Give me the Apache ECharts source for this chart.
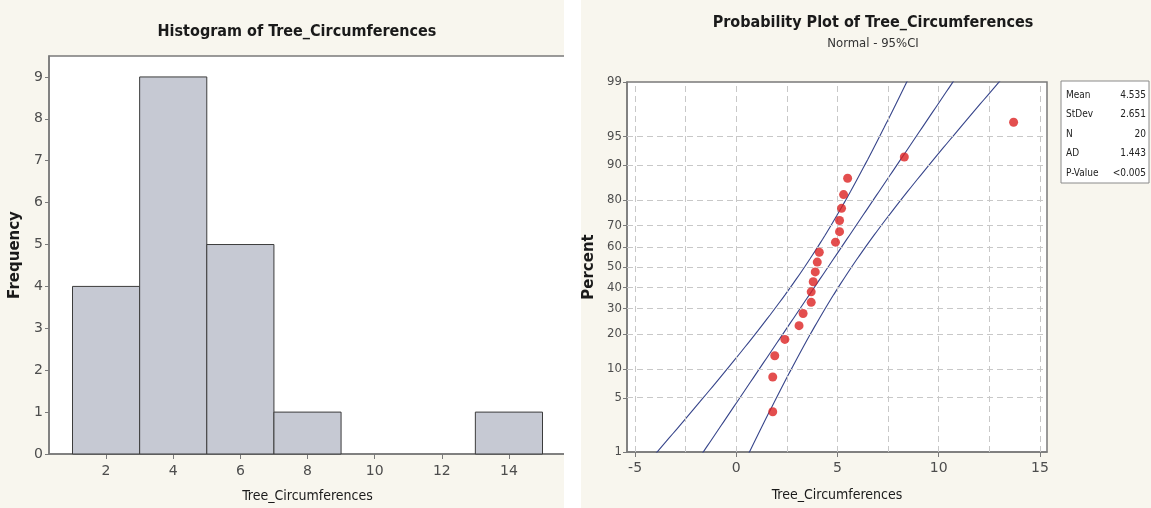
<!DOCTYPE html>
<html>
<head>
<meta charset="utf-8">
<script src="https://cdn.jsdelivr.net/npm/echarts@6/dist/echarts.min.js"></script>
<style>
  html, body { margin: 0; padding: 0; background: #ffffff; }
  #hist { position: absolute; left: 0; top: 0; width: 564px; height: 508px; background: #f8f6ee; }
  #prob { position: absolute; left: 581px; top: 0; width: 570px; height: 508px; background: #f8f6ee; }
</style>
</head>
<body>
<div id="hist"></div>
<div id="prob"></div>
<script>
// ---- Histogram data ----
const binEdges = [1, 3, 5, 7, 9, 11, 13, 15];
const binCounts = [4, 9, 5, 1, 0, 0, 1];
const histXTicks = [2, 4, 6, 8, 10, 12, 14];
const histYTicks = [0, 1, 2, 3, 4, 5, 6, 7, 8, 9];

// ---- Probability plot data (sorted observations) ----
const circumferences = [1.8, 1.8, 1.9, 2.4, 3.1, 3.3, 3.7, 3.7, 3.8, 3.9,
                        4.0, 4.1, 4.9, 5.1, 5.1, 5.2, 5.3, 5.5, 8.3, 13.7];
const percentTicks = [1, 5, 10, 20, 30, 40, 50, 60, 70, 80, 90, 95, 99];
const probXTicks = [-5, 0, 5, 10, 15];
const probXGrid = [-5, -2.5, 0, 2.5, 5, 7.5, 10, 12.5, 15];
const statNames = ['Mean', 'StDev', 'N', 'AD', 'P-Value'];
const statValues = ['4.535', '2.651', '20', '1.443', '<0.005'];
const fitMean = 4.535;
const fitStDev = 2.651;

const FONT = 'DejaVu Sans';
const FONT_C = 'DejaVu Sans Condensed';
const AXIS_GRAY = '#7a7a7a';
const LABEL_GRAY = '#4d4d4d';

// Inverse standard normal CDF (Acklam's rational approximation)
function normInv(p) {
  const a = [-3.969683028665376e+01, 2.209460984245205e+02, -2.759285104469687e+02, 1.383577518672690e+02, -3.066479806614716e+01, 2.506628277459239e+00];
  const b = [-5.447609879822406e+01, 1.615858368580409e+02, -1.556989798598866e+02, 6.680131188771972e+01, -1.328068155288572e+01];
  const c = [-7.784894002430293e-03, -3.223964580411365e-01, -2.400758277161838e+00, -2.549732539343734e+00, 4.374664141464968e+00, 2.938163982698783e+00];
  const d = [7.784695709041462e-03, 3.224671290700398e-01, 2.445134137142996e+00, 3.754408661907416e+00];
  const pl = 0.02425, ph = 1 - pl;
  let q, r;
  if (p < pl) {
    q = Math.sqrt(-2 * Math.log(p));
    return (((((c[0]*q+c[1])*q+c[2])*q+c[3])*q+c[4])*q+c[5]) / ((((d[0]*q+d[1])*q+d[2])*q+d[3])*q+1);
  }
  if (p <= ph) {
    q = p - 0.5; r = q * q;
    return (((((a[0]*r+a[1])*r+a[2])*r+a[3])*r+a[4])*r+a[5])*q / (((((b[0]*r+b[1])*r+b[2])*r+b[3])*r+b[4])*r+1);
  }
  q = Math.sqrt(-2 * Math.log(1 - p));
  return -(((((c[0]*q+c[1])*q+c[2])*q+c[3])*q+c[4])*q+c[5]) / ((((d[0]*q+d[1])*q+d[2])*q+d[3])*q+1);
}

// ================= Histogram =================
const histChart = echarts.init(document.getElementById('hist'), null, { renderer: 'canvas' });
const histBins = binCounts.map((n, i) => [binEdges[i], binEdges[i + 1], n]);

histChart.setOption({
  animation: false,
  title: {
    text: 'Histogram of Tree_Circumferences',
    left: 292, top: 19, textAlign: 'center',
    textStyle: { fontFamily: FONT_C, fontWeight: 'bold', fontSize: 16, color: '#1a1a1a' }
  },
  grid: {
    left: 49, top: 56, right: -2, bottom: 54, outerBoundsMode: 'none',
    show: true, backgroundColor: '#ffffff', borderColor: AXIS_GRAY, borderWidth: 1.5
  },
  xAxis: {
    type: 'value', min: 0.3, max: 15.7,
    name: 'Tree_Circumferences', nameLocation: 'middle', nameGap: 35,
    nameTextStyle: { fontFamily: FONT_C, fontSize: 14, color: '#1a1a1a' },
    axisLine: { show: true, onZero: false, lineStyle: { color: AXIS_GRAY, width: 1.5 } },
    axisTick: { show: true, length: 5, customValues: histXTicks, lineStyle: { color: AXIS_GRAY } },
    axisLabel: { customValues: histXTicks, margin: 10, fontFamily: FONT, fontSize: 14, color: LABEL_GRAY },
    splitLine: { show: false }
  },
  yAxis: {
    type: 'value', min: 0, max: 9.5,
    name: 'Frequency', nameLocation: 'middle', nameGap: 26,
    nameTextStyle: { fontFamily: FONT, fontWeight: 'bold', fontSize: 15, color: '#1a1a1a' },
    axisLine: { show: true, lineStyle: { color: AXIS_GRAY, width: 1.5 } },
    axisTick: { show: true, length: 4, customValues: histYTicks, lineStyle: { color: AXIS_GRAY } },
    axisLabel: { customValues: histYTicks, margin: 6, fontFamily: FONT, fontSize: 14, color: LABEL_GRAY },
    splitLine: { show: false }
  },
  series: [{
    type: 'custom',
    data: histBins,
    renderItem: function (params, api) {
      const lo = api.value(0), hi = api.value(1), n = api.value(2);
      if (!n) return null;
      const p0 = api.coord([lo, 0]);
      const p1 = api.coord([hi, n]);
      return {
        type: 'rect',
        shape: { x: p0[0], y: p1[1], width: p1[0] - p0[0], height: p0[1] - p1[1] },
        style: { fill: '#c6c9d3', stroke: '#3c3c3c', lineWidth: 1 }
      };
    }
  }]
});

// ================= Normal probability plot =================
const probChart = echarts.init(document.getElementById('prob'), null, { renderer: 'canvas' });
const nObs = circumferences.length;
const zMin = normInv(0.01), zMax = normInv(0.99);
const zTicks = percentTicks.map(p => normInv(p / 100));

// median-rank plotting positions
const points = circumferences.map((v, i) => [v, normInv((i + 1 - 0.3) / (nObs + 0.4))]);

// fitted line and 95% confidence bands, sampled along z
const zSamples = [];
for (let z = -2.6; z <= 2.6001; z += 0.05) zSamples.push(z);
const fitLine = zSamples.map(z => [fitMean + z * fitStDev, z]);
const ciHalf = z => 1.96 * fitStDev * Math.sqrt(1 / nObs + z * z / (2 * (nObs - 1)));
const ciLower = zSamples.map(z => [fitMean + z * fitStDev - ciHalf(z), z]);
const ciUpper = zSamples.map(z => [fitMean + z * fitStDev + ciHalf(z), z]);

const gridLineStyle = { color: '#c8c8c8', type: [6, 4], width: 1 };
const bandStyle = { color: '#36448a', width: 1.1 };

const boxX = 480, boxY = 81, boxW = 88, rowH = 19.5;
const statGraphics = [{
  type: 'rect',
  shape: { x: boxX, y: boxY, width: boxW, height: 102 },
  style: { fill: '#ffffff', stroke: '#8a8a8a', lineWidth: 1 }
}];
statNames.forEach((name, i) => {
  statGraphics.push({
    type: 'text', x: boxX + 5, y: boxY + 14 + i * rowH,
    style: { text: name, fontFamily: FONT_C, fontSize: 10, fill: '#222', textVerticalAlign: 'middle' }
  });
  statGraphics.push({
    type: 'text', x: boxX + boxW - 3, y: boxY + 14 + i * rowH,
    style: { text: statValues[i], fontFamily: FONT_C, fontSize: 10, fill: '#222', textAlign: 'right', textVerticalAlign: 'middle' }
  });
});

probChart.setOption({
  animation: false,
  title: {
    text: 'Probability Plot of Tree_Circumferences',
    subtext: 'Normal - 95%CI',
    left: 287, top: 10, textAlign: 'center', itemGap: 6,
    textStyle: { fontFamily: FONT_C, fontWeight: 'bold', fontSize: 16, color: '#1a1a1a' },
    subtextStyle: { fontFamily: FONT_C, fontSize: 13, color: '#333' }
  },
  grid: {
    left: 46, top: 82, right: 104, bottom: 56, outerBoundsMode: 'none',
    show: true, backgroundColor: '#ffffff', borderColor: AXIS_GRAY, borderWidth: 1.5
  },
  xAxis: {
    type: 'value', min: -5.4, max: 15.35,
    name: 'Tree_Circumferences', nameLocation: 'middle', nameGap: 36,
    nameTextStyle: { fontFamily: FONT_C, fontSize: 14, color: '#1a1a1a' },
    axisLine: { show: true, onZero: false, lineStyle: { color: AXIS_GRAY, width: 1.5 } },
    axisTick: { show: true, length: 5, customValues: probXTicks, lineStyle: { color: AXIS_GRAY } },
    axisLabel: { customValues: probXTicks, margin: 9, fontFamily: FONT, fontSize: 14, color: LABEL_GRAY },
    splitLine: { show: false }
  },
  yAxis: {
    type: 'value', min: zMin, max: zMax,
    name: 'Percent', nameLocation: 'middle', nameGap: 27,
    nameTextStyle: { fontFamily: FONT, fontWeight: 'bold', fontSize: 15, color: '#1a1a1a' },
    axisLine: { show: true, onZero: false, lineStyle: { color: AXIS_GRAY, width: 1.5 } },
    axisTick: { show: true, length: 4, customValues: zTicks, lineStyle: { color: AXIS_GRAY } },
    axisLabel: {
      customValues: zTicks, margin: 5, fontFamily: FONT_C, fontSize: 13, color: LABEL_GRAY,
      formatter: function (v) {
        let best = 0;
        zTicks.forEach((z, i) => { if (Math.abs(z - v) < Math.abs(zTicks[best] - v)) best = i; });
        return String(percentTicks[best]);
      }
    },
    splitLine: { show: false }
  },
  graphic: statGraphics,
  series: [
    {
      type: 'line', data: [], silent: true,
      markLine: {
        silent: true, symbol: 'none', label: { show: false },
        lineStyle: gridLineStyle,
        data: probXGrid.map(v => ({ xAxis: v }))
          .concat(percentTicks.slice(1, -1).map(p => ({ yAxis: normInv(p / 100) })))
      }
    },
    { type: 'line', data: ciLower, showSymbol: false, lineStyle: bandStyle, clip: true, silent: true },
    { type: 'line', data: fitLine, showSymbol: false, lineStyle: bandStyle, clip: true, silent: true },
    { type: 'line', data: ciUpper, showSymbol: false, lineStyle: bandStyle, clip: true, silent: true },
    {
      type: 'scatter', data: points, symbol: 'circle', symbolSize: 9,
      itemStyle: { color: '#dc2222' }, z: 5
    }
  ]
});
</script>
</body>
</html>
